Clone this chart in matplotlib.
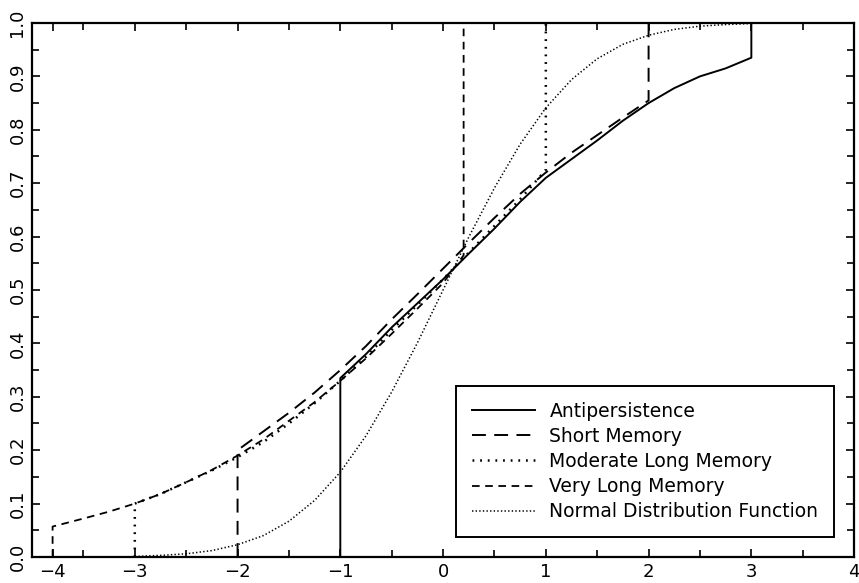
import matplotlib.pyplot as plt
from matplotlib.ticker import MultipleLocator, FixedLocator

# data
# every curve starts with a vertical jump from 0 and ends with a jump to 1
anti_x = [-1, -1, -0.75, -0.5, -0.25, 0, 0.25, 0.5, 0.75, 1, 1.25, 1.5, 1.75, 2, 2.25, 2.5, 2.75, 3, 3]
anti_y = [0, 0.335, 0.38, 0.43, 0.475, 0.52, 0.568, 0.615, 0.665, 0.71, 0.745, 0.78, 0.817, 0.85, 0.878, 0.90, 0.915, 0.935, 1.0]

short_x = [-2, -2, -1.75, -1.5, -1.25, -1, -0.75, -0.5, -0.25, 0, 0.25, 0.5, 0.75, 1, 1.25, 1.5, 1.75, 2, 2]
short_y = [0, 0.2, 0.235, 0.27, 0.308, 0.35, 0.395, 0.445, 0.492, 0.54, 0.588, 0.635, 0.68, 0.72, 0.757, 0.79, 0.823, 0.855, 1.0]

moderate_x = [-3, -3, -2.75, -2.5, -2.25, -2, -1.75, -1.5, -1.25, -1, -0.75, -0.5, -0.25, 0, 0.25, 0.5, 0.75, 1, 1]
moderate_y = [0, 0.10, 0.118, 0.14, 0.162, 0.187, 0.215, 0.25, 0.288, 0.33, 0.375, 0.425, 0.472, 0.52, 0.57, 0.62, 0.67, 0.725, 1.0]

verylong_x = [-3.8, -3.8, -3.5, -3.25, -3, -2.75, -2.5, -2.25, -2, -1.75, -1.5, -1.25, -1, -0.75, -0.5, -0.25, 0, 0.2, 0.2]
verylong_y = [0, 0.057, 0.072, 0.085, 0.10, 0.118, 0.14, 0.163, 0.19, 0.22, 0.255, 0.29, 0.33, 0.372, 0.418, 0.465, 0.513, 0.565, 1.0]

normal_x = [-3, -2.75, -2.5, -2.25, -2, -1.75, -1.5, -1.25, -1, -0.75, -0.5, -0.25, 0,
            0.25, 0.5, 0.75, 1, 1.25, 1.5, 1.75, 2, 2.25, 2.5, 2.75, 3]
normal_y = [0.001, 0.003, 0.006, 0.012, 0.023, 0.040, 0.067, 0.106, 0.159, 0.227, 0.309, 0.401, 0.5,
            0.599, 0.691, 0.773, 0.841, 0.894, 0.933, 0.960, 0.977, 0.988, 0.994, 0.997, 0.999]

series_labels = ['Antipersistence', 'Short Memory', 'Moderate Long Memory',
                 'Very Long Memory', 'Normal Distribution Function']

# tick positions; the "-4" tick of the original sits a bit inside the frame
xtick_pos = [-3.8, -3, -2, -1, 0, 1, 2, 3, 4]
xtick_lab = ['\u22124', '\u22123', '\u22122', '\u22121', '0', '1', '2', '3', '4']


def main():
    plt.rcParams['lines.scale_dashes'] = False
    plt.rcParams['font.family'] = 'DejaVu Sans'

    fig = plt.figure(figsize=(8.59, 5.83), dpi=100)
    ax = fig.add_axes([0.0373, 0.0446, 0.957, 0.916])

    ax.plot(anti_x, anti_y, color='black', lw=1.4, ls='-', label=series_labels[0])
    ax.plot(short_x, short_y, color='black', lw=1.4, ls=(0, (10, 6)), label=series_labels[1])
    ax.plot(moderate_x, moderate_y, color='black', lw=1.8, ls=(0, (1.3, 4.2)), label=series_labels[2])
    ax.plot(verylong_x, verylong_y, color='black', lw=1.3, ls=(0, (5.5, 4)), label=series_labels[3])
    ax.plot(normal_x, normal_y, color='black', lw=1.1, ls=(0, (1, 1.6)), label=series_labels[4])

    ax.set_xlim(-4, 4)
    ax.set_ylim(0, 1)

    ax.xaxis.set_major_locator(FixedLocator(xtick_pos))
    ax.set_xticklabels(xtick_lab)
    ax.xaxis.set_minor_locator(MultipleLocator(0.5))
    ax.yaxis.set_major_locator(MultipleLocator(0.1))
    ax.yaxis.set_minor_locator(MultipleLocator(0.05))
    ax.set_yticklabels(['%.1f' % v for v in ax.get_yticks()])

    ax.tick_params(which='both', direction='in', top=True, right=True,
                   width=1.2, labelsize=13, pad=4)
    ax.tick_params(which='major', length=6)
    ax.tick_params(which='minor', length=5)
    ax.tick_params(axis='y', labelrotation=90)
    for lab in ax.get_yticklabels():
        lab.set_verticalalignment('center')

    for s in ax.spines.values():
        s.set_linewidth(1.6)

    leg = ax.legend(loc='lower right', bbox_to_anchor=(0.976, 0.037), borderaxespad=0,
                    fontsize=13.5, handlelength=3.4, handletextpad=0.75,
                    fancybox=False, framealpha=1, edgecolor='black',
                    borderpad=0.85, labelspacing=0.33)
    leg.get_frame().set_linewidth(1.4)

    fig.savefig('out.png', dpi=100)


if __name__ == '__main__':
    main()
